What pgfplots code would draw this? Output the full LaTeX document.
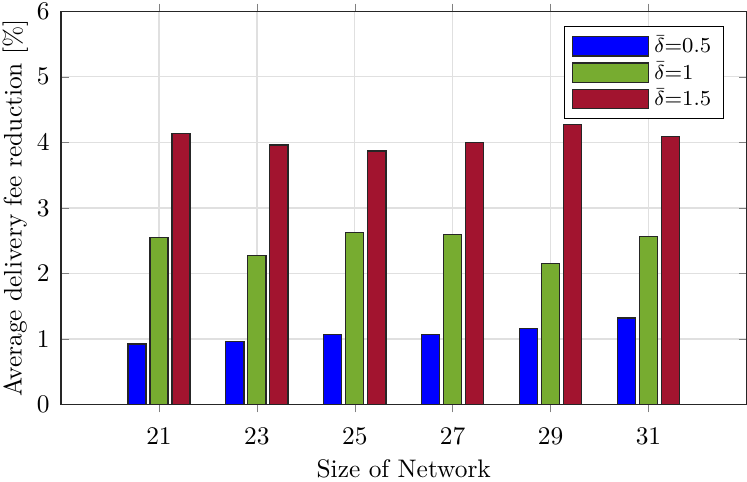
\documentclass[border=0pt]{standalone}
\usepackage{pgfplots}
\pgfplotsset{compat=1.18}
\definecolor{mblue}{RGB}{0,0,255}
\definecolor{mgreen}{RGB}{119,172,48}
\definecolor{mred}{RGB}{162,20,47}
\begin{document}
\begin{tikzpicture}
\begin{axis}[
  scale only axis,
  width=270pt, height=155pt,
  xmin=19, xmax=33, ymin=0, ymax=6,
  xtick={21,23,25,27,29,31},
  ytick={0,1,2,3,4,5,6},
  tick align=inside,
  xtick pos=both, ytick pos=both,
  major tick length=3pt,
  grid=major,
  major grid style={draw=black!12, line width=0.5pt},
  axis line style={black!85, line width=0.5pt},
  xlabel={Size of Network},
  ylabel={Average delivery fee reduction [\%]},
  xticklabel style={inner ysep=0pt, yshift=-6pt},
  yticklabel style={inner ysep=1.2pt, xshift=-1pt},
  xlabel style={inner ysep=1pt, yshift=-5pt},
  ylabel style={inner ysep=1pt, yshift=-1pt},
  ybar,
  bar width=0.37,
  legend style={at={(0.968,0.962)}, anchor=north east, draw=black, line width=0.5pt,
    font=\fontsize{8.4}{9}\selectfont,
    nodes={inner ysep=1.1pt},
    row sep=0pt, inner xsep=3pt, inner ysep=2.5pt, cells={anchor=west}},
  legend image code/.code={\draw[#1, line width=0.5pt] (0pt,-3.8pt) rectangle (30pt,3.8pt);},
]
\addplot[fill=mblue, draw=black!85, line width=0.5pt, bar shift=-0.45] coordinates {
(21,0.925) (23,0.96) (25,1.07) (27,1.07) (29,1.16) (31,1.32)};
\addlegendentry{$\bar{\delta}$=0.5}
\addplot[fill=mgreen, draw=black!85, line width=0.5pt, bar shift=0] coordinates {
(21,2.55) (23,2.28) (25,2.62) (27,2.59) (29,2.155) (31,2.56)};
\addlegendentry{$\bar{\delta}$=1}
\addplot[fill=mred, draw=black!85, line width=0.5pt, bar shift=0.45] coordinates {
(21,4.13) (23,3.96) (25,3.87) (27,4.00) (29,4.27) (31,4.09)};
\addlegendentry{$\bar{\delta}$=1.5}
\end{axis}
\end{tikzpicture}
\end{document}
